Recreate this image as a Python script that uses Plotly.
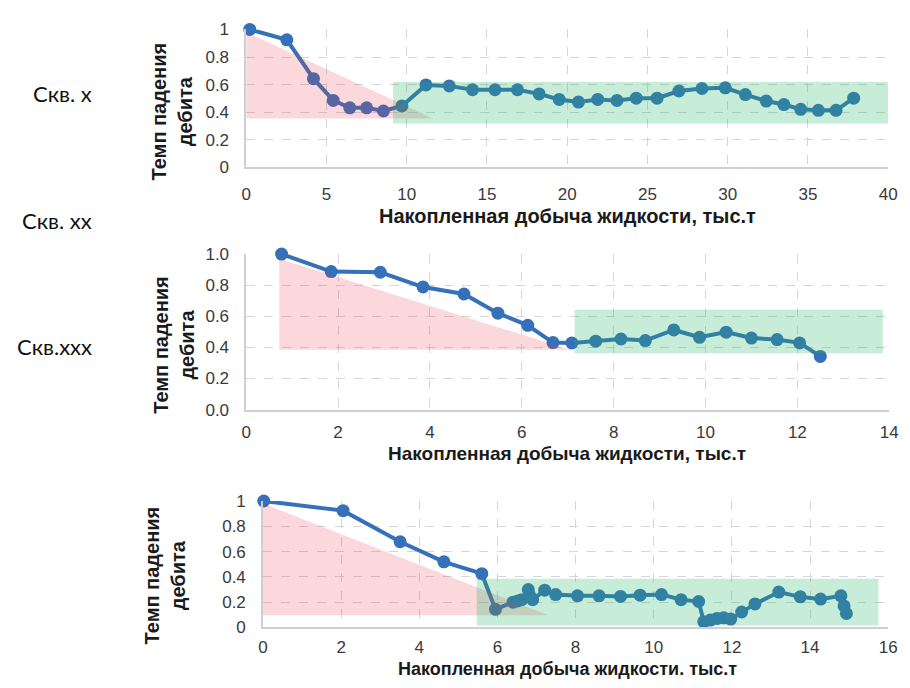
import plotly.graph_objects as go

W, H = 910, 688

# ---------------- data ----------------
well_labels = ["Скв. x", "Скв. xx", "Скв.xxx"]
x_title_1 = "Накопленная добыча жидкости, тыс.т"
x_title_3 = "Накопленная добыча жидкости. тыс.т"
y_title = "Темп падения<br>дебита"

# Panel 1
x1 = [0.22, 2.53, 4.19, 5.42, 6.45, 7.5, 8.55, 9.7, 11.2, 12.65, 14.1, 15.5, 16.9, 18.25,
      19.5, 20.7, 21.9, 23.1, 24.3, 25.6, 26.96, 28.4, 29.85, 31.1, 32.4, 33.5, 34.55,
      35.65, 36.75, 37.85]
y1 = [1.0, 0.925, 0.643, 0.486, 0.432, 0.432, 0.409, 0.446, 0.598, 0.591, 0.563, 0.563,
      0.563, 0.533, 0.493, 0.474, 0.493, 0.486, 0.502, 0.502, 0.554, 0.572, 0.577, 0.528,
      0.481, 0.456, 0.421, 0.414, 0.414, 0.502]
red1_x = [0, 0, 11.65, 0]
red1_y = [0.355, 0.98, 0.355, 0.355]
green1_x = [9.15, 40, 40, 9.15, 9.15]
green1_y = [0.318, 0.318, 0.62, 0.62, 0.318]

# Panel 2
x2 = [0.77, 1.85, 2.92, 3.85, 4.74, 5.48, 6.13, 6.68, 7.09, 7.61, 8.16, 8.69, 9.31, 9.87,
      10.45, 11.0, 11.56, 12.05, 12.5]
y2 = [1.0, 0.887, 0.883, 0.788, 0.743, 0.62, 0.542, 0.431, 0.429, 0.44, 0.454, 0.444,
      0.512, 0.465, 0.498, 0.46, 0.45, 0.429, 0.342]
red2_x = [0.72, 0.72, 7.05, 0.72]
red2_y = [0.385, 0.97, 0.385, 0.385]
green2_x = [7.15, 13.86, 13.86, 7.15, 7.15]
green2_y = [0.3625, 0.3625, 0.642, 0.642, 0.3625]

# Panel 3
x3 = [0.02, 2.05, 3.51, 4.63, 5.6, 5.95, 6.4, 6.52, 6.62, 6.79, 6.83, 6.9, 7.21, 7.49,
      8.05, 8.6, 9.15, 9.65, 10.2, 10.7, 11.15, 11.28, 11.45, 11.62, 11.79, 11.97, 12.25,
      12.59, 13.2, 13.75, 14.27, 14.79, 14.87, 14.93]
y3 = [1.0, 0.924, 0.678, 0.519, 0.425, 0.143, 0.2, 0.21, 0.22, 0.30, 0.25, 0.22, 0.295,
      0.26, 0.25, 0.25, 0.245, 0.255, 0.26, 0.22, 0.205, 0.046, 0.058, 0.071, 0.076,
      0.066, 0.122, 0.186, 0.28, 0.242, 0.224, 0.25, 0.17, 0.11]
red3_x = [0, 0, 7.3, 0]
red3_y = [0.097, 0.98, 0.097, 0.097]
green3_x = [5.47, 15.75, 15.75, 5.47, 5.47]
green3_y = [0.015, 0.015, 0.385, 0.385, 0.015]

# ---------------- styling ----------------
LINE = "#3570b8"
RED = "rgba(230,60,80,0.2)"
GREEN = "rgba(40,180,100,0.26)"
GRID = "#d6d6d6"
AXL = "#cfcfcf"
TICKF = dict(family="Liberation Sans, Arial, sans-serif", size=17, color="#3a3a3a")
TITF = dict(family="Liberation Sans, Arial, sans-serif", size=20, color="#1a1a1a")
TITF2 = dict(family="Liberation Sans, Arial, sans-serif", size=19, color="#1a1a1a")
TITF3 = dict(family="Liberation Sans, Arial, sans-serif", size=18, color="#1a1a1a")


def px_x(p):
    return p / W


def px_y(p):
    return 1 - p / H


panels = [
    dict(x=x1, y=y1, rx=red1_x, ry=red1_y, gx=green1_x, gy=green1_y,
         xr=[0, 40], dt=5, xpx=(245, 897), ypx=(21, 163), yfmt="", xlen=10,
         xt=x_title_1, xty=213, ytx=170, yty=105, tf=TITF),
    dict(x=x2, y=y2, rx=red2_x, ry=red2_y, gx=green2_x, gy=green2_y,
         xr=[0, 14], dt=2, xpx=(245, 898), ypx=(252, 412), yfmt=".1f", xlen=6,
         xt=x_title_1, xty=457, ytx=172, yty=345, tf=TITF2),
    dict(x=x3, y=y3, rx=red3_x, ry=red3_y, gx=green3_x, gy=green3_y,
         xr=[0, 16], dt=2, xpx=(262, 897), ypx=(506, 636), yfmt="", xlen=3,
         xt=x_title_3, xty=679, ytx=162, yty=583, tf=TITF3),
]

fig = go.Figure()
annotations = []
for i, p in enumerate(panels, start=1):
    xa = "x" if i == 1 else f"x{i}"
    ya = "y" if i == 1 else f"y{i}"
    fig.add_trace(go.Scatter(x=p["x"], y=p["y"], xaxis=xa, yaxis=ya, mode="lines+markers",
                             line=dict(color=LINE, width=4),
                             marker=dict(color=LINE, size=13),
                             cliponaxis=False, showlegend=False, hoverinfo="skip"))
    fig.add_trace(go.Scatter(x=p["rx"], y=p["ry"], xaxis=xa, yaxis=ya, mode="lines",
                             fill="toself", fillcolor=RED, line=dict(width=0),
                             showlegend=False, hoverinfo="skip"))
    fig.add_trace(go.Scatter(x=p["gx"], y=p["gy"], xaxis=xa, yaxis=ya, mode="lines",
                             fill="toself", fillcolor=GREEN, line=dict(width=0),
                             showlegend=False, hoverinfo="skip"))
    xkey = "xaxis" if i == 1 else f"xaxis{i}"
    ykey = "yaxis" if i == 1 else f"yaxis{i}"
    fig.layout[xkey] = dict(
        domain=[px_x(p["xpx"][0]), px_x(p["xpx"][1])], anchor=ya, range=p["xr"],
        dtick=p["dt"], tick0=0, showgrid=True, gridcolor=GRID, griddash="dash",
        gridwidth=1, showline=True, linecolor=AXL, linewidth=1.5, zeroline=False,
        ticks="outside", ticklen=p["xlen"], tickcolor="rgba(0,0,0,0)", tickfont=TICKF,
        fixedrange=True)
    fig.layout[ykey] = dict(
        domain=[px_y(p["ypx"][1]), px_y(p["ypx"][0])], anchor=xa, range=[0, 1],
        dtick=0.2, tick0=0, tickformat=p["yfmt"], showgrid=True, gridcolor=GRID,
        griddash="dash", gridwidth=1, showline=True, linecolor=AXL, linewidth=1.5,
        zeroline=False, ticks="outside", ticklen=12, tickcolor="rgba(0,0,0,0)",
        tickfont=TICKF, fixedrange=True)
    annotations.append(dict(text=f"<b>{p['xt']}</b>", x=px_x(571), y=px_y(p["xty"]),
                            xref="paper", yref="paper", showarrow=False,
                            xanchor="center", yanchor="middle", font=p["tf"]))
    annotations.append(dict(text=f"<b>{y_title}</b>", x=px_x(p["ytx"]), y=px_y(p["yty"]),
                            xref="paper", yref="paper", showarrow=False, textangle=-90,
                            xanchor="center", yanchor="middle", font=TITF))

label_y = [87, 217, 347]
for lab, ly in zip(well_labels, label_y):
    annotations.append(dict(text=lab, x=px_x(90), y=px_y(ly), xref="paper", yref="paper",
                            showarrow=False, xanchor="right", yanchor="middle",
                            font=dict(family="Lato, Open Sans, sans-serif", size=22,
                                      color="#111111")))

fig.update_layout(width=W, height=H, autosize=False,
                  margin=dict(l=0, r=0, t=0, b=0),
                  paper_bgcolor="white", plot_bgcolor="white",
                  annotations=annotations)

fig.write_html(
    "out.html",
    config={"displayModeBar": False},
    post_script=("document.body.style.margin='0';document.body.style.padding='0';"
                 "document.documentElement.style.overflow='hidden';"
                 "document.body.style.overflow='hidden';"),
)
